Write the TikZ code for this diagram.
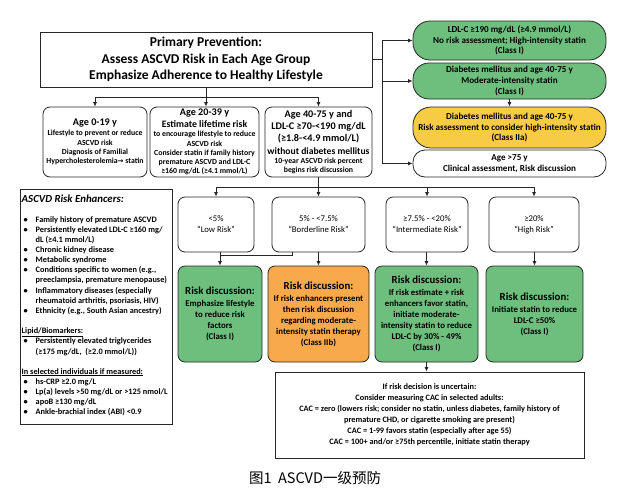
\documentclass[tikz,border=0pt]{standalone}
\usepackage{fontspec}
\setmainfont{Carlito}
\newfontfamily\cjk{Noto Sans CJK SC}
\newfontfamily\dvs{DejaVu Sans}
\usetikzlibrary{arrows.meta}
\definecolor{gr}{HTML}{6EBF7E}
\definecolor{orn}{HTML}{F8A94B}
\definecolor{yel}{HTML}{F8CB45}
\definecolor{bd}{HTML}{262626}
\newcommand\enb{\makebox[14pt][l]{\hspace*{2pt}\textbullet}}
\newcommand\enc{\hspace*{14pt}}
\newcommand\hdA[1]{{\fontsize{10.2}{9}\selectfont #1}}
\newcommand\rdh{{\fontsize{10.8}{11}\selectfont Risk discussion:}}
\begin{document}
\begin{tikzpicture}[x=1pt,y=-1pt,
  bx/.style={draw=bd, line width=0.8pt, inner sep=0pt, align=center, text=black},
  rb/.style={bx, rounded corners=7pt},
  pill/.style={bx, minimum width=193},
  pilltxt/.style={font=\fontsize{9.1}{10.8}\selectfont\bfseries},
  agetxt/.style={font=\fontsize{7.8}{9.3}\selectfont\bfseries},
  risktxt/.style={font=\fontsize{8.7}{11}\selectfont},
  gtxt/.style={font=\fontsize{8.8}{11}\selectfont\bfseries},
  ctxt/.style={font=\fontsize{8.3}{11}\selectfont\bfseries},
  ln/.style={draw=bd, line width=0.8pt},
  arr/.style={ln, -{Latex[length=4.5pt,width=4pt]}}]
\useasboundingbox[fill=white] (0,0) rectangle (617,498);

% title
\node[bx, minimum width=332, minimum height=55, font=\fontsize{13.5}{16.5}\selectfont\bfseries] (title) at (206,59.5)
  {Primary Prevention:\\Assess ASCVD Risk in Each Age Group\\Emphasize Adherence to Healthy Lifestyle};

% right column
\node[pill, pilltxt, fill=gr, rounded corners=17pt, minimum height=39] (ldl) at (509.5,40.5)
  {LDL-C ≥190 mg/dL (≥4.9 mmol/L)\\No risk assessment; High-intensity statin\\(Class I)};
\node[pill, pilltxt, fill=gr, rounded corners=16pt, minimum height=36] (dm1) at (509.5,81)
  {Diabetes mellitus and age 40-75 y\\Moderate-intensity statin\\(Class I)};
\node[pill, pilltxt, fill=yel, rounded corners=18pt, minimum height=41] (dm2) at (509.5,127.5)
  {Diabetes mellitus and age 40-75 y\\Risk assessment to consider high-intensity statin\\(Class IIa)};
\node[pill, pilltxt, fill=white, rounded corners=12pt, minimum height=27] (old) at (509.5,163.5)
  {Age >75 y\\Clinical assessment, Risk discussion};

% age boxes
\node[rb, agetxt, minimum width=104, minimum height=70] (a1) at (95,142)
  {\hdA{Age 0-19 y}\\[1pt]Lifestyle to prevent or reduce\\ASCVD risk\\Diagnosis of Familial\\Hypercholesterolemia{\dvs\fontsize{7}{9}\selectfont →} statin};
\node[rb, agetxt, minimum width=109, minimum height=70] (a2) at (204.5,142)
  {\hdA{Age 20-39 y}\\[2.7pt]{\fontsize{9.8}{9}\selectfont Estimate lifetime risk}\\to encourage lifestyle to reduce\\ASCVD risk\\Consider statin if family history\\premature ASCVD and LDL-C\\≥160 mg/dL (≥4.1 mmol/L)};
\node[rb, agetxt, minimum width=107, minimum height=70] (a3) at (318.5,142)
  {\hdA{Age 40-75 y and}\\[3pt]\hdA{LDL-C ≥70-<190 mg/dL}\\[3pt]\hdA{(≥1.8-<4.9 mmol/L)}\\[3pt]{\fontsize{9.6}{9}\selectfont without diabetes mellitus}\\10-year ASCVD risk percent\\begins risk discussion};

% risk enhancers
\node[draw=bd, line width=0.8pt, minimum width=152, minimum height=235, anchor=north west, inner sep=0pt] (enh) at (20,189) {};
\node[anchor=north west, inner sep=0pt, align=left, font=\fontsize{8.3}{10.1}\selectfont\bfseries] (enhtxt) at (21.5,195)
  {{\fontsize{10.8}{10}\selectfont\itshape ASCVD Risk Enhancers:}\\[9.5pt]
   \enb Family history of premature ASCVD\\
   \enb Persistently elevated LDL-C ≥160 mg/\\
   \enc dL (≥4.1 mmol/L)\\
   \enb Chronic kidney disease\\
   \enb Metabolic syndrome\\
   \enb Conditions specific to women (e.g.,\\
   \enc preeclampsia, premature menopause)\\
   \enb Inflammatory diseases (especially\\
   \enc rheumatoid arthritis, psoriasis, HIV)\\
   \enb Ethnicity (e.g., South Asian ancestry)\\[10.5pt]
   \underline{Lipid/Biomarkers:}\\
   \enb Persistently elevated triglycerides\\
   \enc (≥175 mg/dL,\ \ (≥2.0 mmol/L))\\[10pt]
   \underline{In selected individuals if measured:}\\
   \enb hs-CRP ≥2.0 mg/L\\
   \enb Lp(a) levels >50 mg/dL or >125 nmol/L\\
   \enb apoB ≥130 mg/dL\\
   \enb Ankle-brachial index (ABI) <0.9};

% risk categories
\node[rb, risktxt, minimum width=76, minimum height=55] (r1) at (216,224.5) {<5\%\\“Low Risk”};
\node[rb, risktxt, minimum width=93, minimum height=55] (r2) at (318.5,224.5) {5\% - <7.5\%\\“Borderline Risk”};
\node[rb, risktxt, minimum width=82, minimum height=55] (r3) at (427,224.5) {≥7.5\% - <20\%\\“Intermediate Risk”};
\node[rb, risktxt, minimum width=90, minimum height=55] (r4) at (534,224.5) {≥20\%\\“High Risk”};

% recommendations
\node[rb, gtxt, fill=gr, minimum width=84, minimum height=96] (g1) at (220,314)
  {\rdh\\[1pt]Emphasize lifestyle\\to reduce risk\\factors\\(Class I)};
\node[rb, gtxt, fill=orn, minimum width=101, minimum height=96] (g2) at (318.5,314)
  {\rdh\\[1pt]If risk enhancers present\\then risk discussion\\regarding moderate-\\intensity statin therapy\\(Class IIb)};
\node[rb, gtxt, fill=gr, minimum width=103, minimum height=96] (g3) at (426.5,314)
  {\rdh\\[1pt]If risk estimate + risk\\enhancers favor statin,\\initiate moderate-\\intensity statin to reduce\\LDL-C by 30\% - 49\%\\(Class I)};
\node[rb, gtxt, fill=gr, minimum width=97, minimum height=96] (g4) at (534.5,314)
  {\rdh\\[1pt]Initiate statin to reduce\\LDL-C ≥50\%\\(Class I)};

% CAC box
\node[bx, ctxt, minimum width=309, minimum height=86] (cac) at (429.5,415)
  {If risk decision is uncertain:\\Consider measuring CAC in selected adults:\\CAC = zero (lowers risk; consider no statin, unless diabetes, family history of\\premature CHD, or cigarette smoking are present)\\CAC = 1-99 favors statin (especially after age 55)\\CAC = 100+ and/or ≥75th percentile, initiate statin therapy};

% caption
\node[inner sep=0pt, font=\fontsize{14.5}{16}\selectfont\cjk] (cap) at (315,478) {图1\ \ ASCVD一级预防};

% connectors: title to right column
\coordinate (rj) at (382,59.5);
\coordinate (rtop) at (382,40.5);
\coordinate (rmid) at (382,81);
\coordinate (rbot) at (382,163.5);
\draw[ln] (title.east) -- (rj);
\draw[ln] (rtop) -- (rbot);
\draw[arr] (rtop) -- (ldl.west);
\draw[arr] (rmid) -- (dm1.west);
\draw[arr] (rbot) -- (old.west);
\draw[arr] (dm1.south) -- (dm2.north);

% title to age boxes
\coordinate (tj) at (206,97);
\draw[ln] (a1.north |- tj) -- (a3.north |- tj);
\draw[arr] (title.south) -- (title.south |- a2.north);
\draw[arr] (a1.north |- tj) -- (a1.north);
\draw[arr] (a3.north |- tj) -- (a3.north);

% age 40-75 to risk categories
\coordinate (bj) at (318.5,187);
\draw[ln] (a3.south) -- (bj);
\draw[ln] (r1.north |- bj) -- (r4.north |- bj);
\draw[arr] (r1.north |- bj) -- (r1.north);
\draw[arr] (bj) -- (r2.north);
\draw[arr] (r3.north |- bj) -- (r3.north);
\draw[arr] (r4.north |- bj) -- (r4.north);

% risk categories to recommendations
\coordinate (bl) at (292,255.5);
\draw[ln] (bl |- r2.south) -- (bl) -- (bl -| g1.north);
\draw[arr] (g1.north |- r1.south) -- (g1.north);
\draw[arr] (r2.south) -- (g2.north);
\draw[arr] (g3.north |- r3.south) -- (g3.north);
\draw[arr] (g4.north |- r4.south) -- (g4.north);
\draw[arr] (g3.south) -- (g3.south |- cac.north);
\end{tikzpicture}
\end{document}
